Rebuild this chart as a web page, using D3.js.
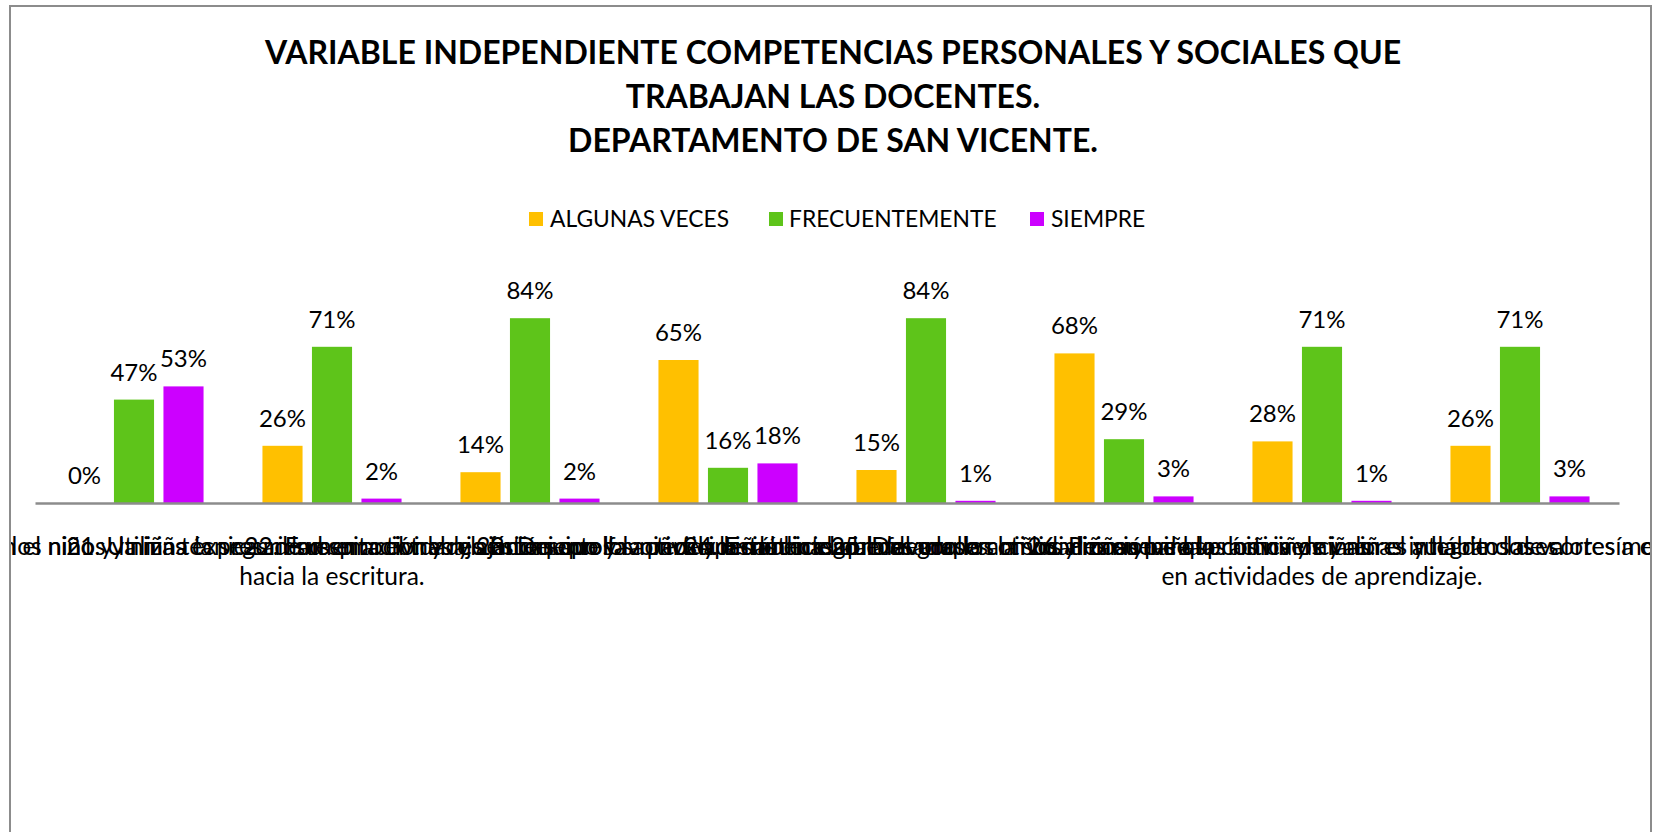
<!DOCTYPE html>
<html>
<head>
<meta charset="utf-8">
<script src="https://cdn.jsdelivr.net/npm/d3@7"></script>
<style>
  html, body { margin: 0; padding: 0; background: #fff; }
  svg { display: block; }
</style>
</head>
<body>
<svg id="chart" width="1660" height="832"></svg>
<script>
// ---------- data ----------
const titleLines = [
  "VARIABLE INDEPENDIENTE COMPETENCIAS PERSONALES Y SOCIALES QUE",
  "TRABAJAN LAS DOCENTES.",
  "DEPARTAMENTO DE SAN VICENTE."
];
const seriesNames = ["ALGUNAS VECES", "FRECUENTEMENTE", "SIEMPRE"];
const seriesColors = ["#FFC000", "#5EC41A", "#CC00FF"];
const categoryLabels = [
  ["18. Realiza actividades en las que los niños y niñas expresan sus emociones y sentimientos."],
  ["19. Se desarrolla en el niño y la niña la seguridad en actividades físicas que favorecen la motricidad", "hacia la escritura."],
  ["21. Utiliza técnicas de respiración y relajación con los niños y niñas en el aula de clases."],
  ["22. Fomenta el trabajo en equipo y la participación integral del grupo con los niños y niñas."],
  ["23. Desarrolla actividades lúdicas que favorecen la socialización de los niños y niñas."],
  ["24. Establece normas con los niños y niñas para la convivencia en el aula de clases."],
  ["25. Desarrolla actividades en las que los niños y niñas integran los valores morales y sociales", "en actividades de aprendizaje."],
  ["26. Promueve la práctica de valores y hábitos de cortesía en las actividades diarias de clases."]
];
const algunasVeces   = [0.00, 0.26, 0.14, 0.65, 0.15, 0.68, 0.28, 0.26];
const frecuentemente = [0.47, 0.71, 0.84, 0.16, 0.84, 0.29, 0.71, 0.71];
const siempre        = [0.53, 0.02, 0.02, 0.18, 0.01, 0.03, 0.01, 0.03];
const seriesValues = [algunasVeces, frecuentemente, siempre];

// ---------- layout ----------
const FONT = "Lato, 'Noto Sans', sans-serif";
const svg = d3.select("#chart");

// frame
svg.append("rect")
  .attr("x", 10).attr("y", 6).attr("width", 1641).attr("height", 840)
  .attr("fill", "#fff").attr("stroke", "#8c8c8c").attr("stroke-width", 2);

svg.append("clipPath").attr("id", "frameClip")
  .append("rect").attr("x", 11).attr("y", 7).attr("width", 1639).attr("height", 830);

// title
const title = svg.append("g");
titleLines.forEach((t, i) => {
  title.append("text")
    .attr("x", 833).attr("y", 64 + i * 44)
    .attr("text-anchor", "middle")
    .attr("font-family", FONT).attr("font-weight", 700)
    .attr("font-size", 32).attr("fill", "#000")
    .text(t);
});

// legend
const legendItems = [
  { x: 529, tx: 550 },
  { x: 769, tx: 789 },
  { x: 1030, tx: 1051 }
];
const legend = svg.append("g");
seriesNames.forEach((name, i) => {
  legend.append("rect")
    .attr("x", legendItems[i].x).attr("y", 212)
    .attr("width", 14).attr("height", 14)
    .attr("fill", seriesColors[i]);
  legend.append("text")
    .attr("x", legendItems[i].tx).attr("y", 227)
    .attr("font-family", FONT).attr("font-size", 22.8).attr("fill", "#000")
    .text(name);
});

// scales
const axisY = 503;
const x0 = d3.scaleBand()
  .domain(d3.range(categoryLabels.length))
  .range([35, 1619])
  .paddingInner(0).paddingOuter(0);
const x1 = d3.scaleBand()
  .domain(d3.range(seriesNames.length))
  .range([0, x0.bandwidth()])
  .paddingInner(0.19).paddingOuter(0.595);
const y = d3.scaleLinear().domain([0, 1]).range([axisY, axisY - 220]);

// bars
const plot = svg.append("g");
seriesValues.forEach((vals, s) => {
  plot.selectAll(null)
    .data(vals)
    .enter().append("rect")
    .attr("x", (d, i) => x0(i) + x1(s))
    .attr("y", d => y(d))
    .attr("width", x1.bandwidth())
    .attr("height", d => y(0) - y(d))
    .attr("fill", seriesColors[s]);
  plot.selectAll(null)
    .data(vals)
    .enter().append("text")
    .attr("x", (d, i) => x0(i) + x1(s) + x1.bandwidth() / 2)
    .attr("y", d => y(d) - 19)
    .attr("text-anchor", "middle")
    .attr("font-family", FONT).attr("font-size", 24).attr("fill", "#000")
    .text(d => d3.format(".0%")(d));
});

// x axis
const xAxis = d3.axisBottom(x0).tickSize(0).tickFormat("");
const axisG = svg.append("g")
  .attr("transform", `translate(0,${axisY})`)
  .call(xAxis);
axisG.select(".domain").attr("stroke", "#8c8c8c").attr("stroke-width", 2.5);

// category labels (overlapping as in the original, clipped by frame)
const catG = svg.append("g").attr("clip-path", "url(#frameClip)");
categoryLabels.forEach((lines, i) => {
  lines.forEach((line, j) => {
    catG.append("text")
      .attr("x", x0(i) + x0.bandwidth() / 2)
      .attr("y", 555 + j * 30)
      .attr("text-anchor", "middle")
      .attr("font-family", FONT).attr("font-size", 24.5).attr("fill", "#000")
      .text(line);
  });
});
</script>
</body>
</html>
